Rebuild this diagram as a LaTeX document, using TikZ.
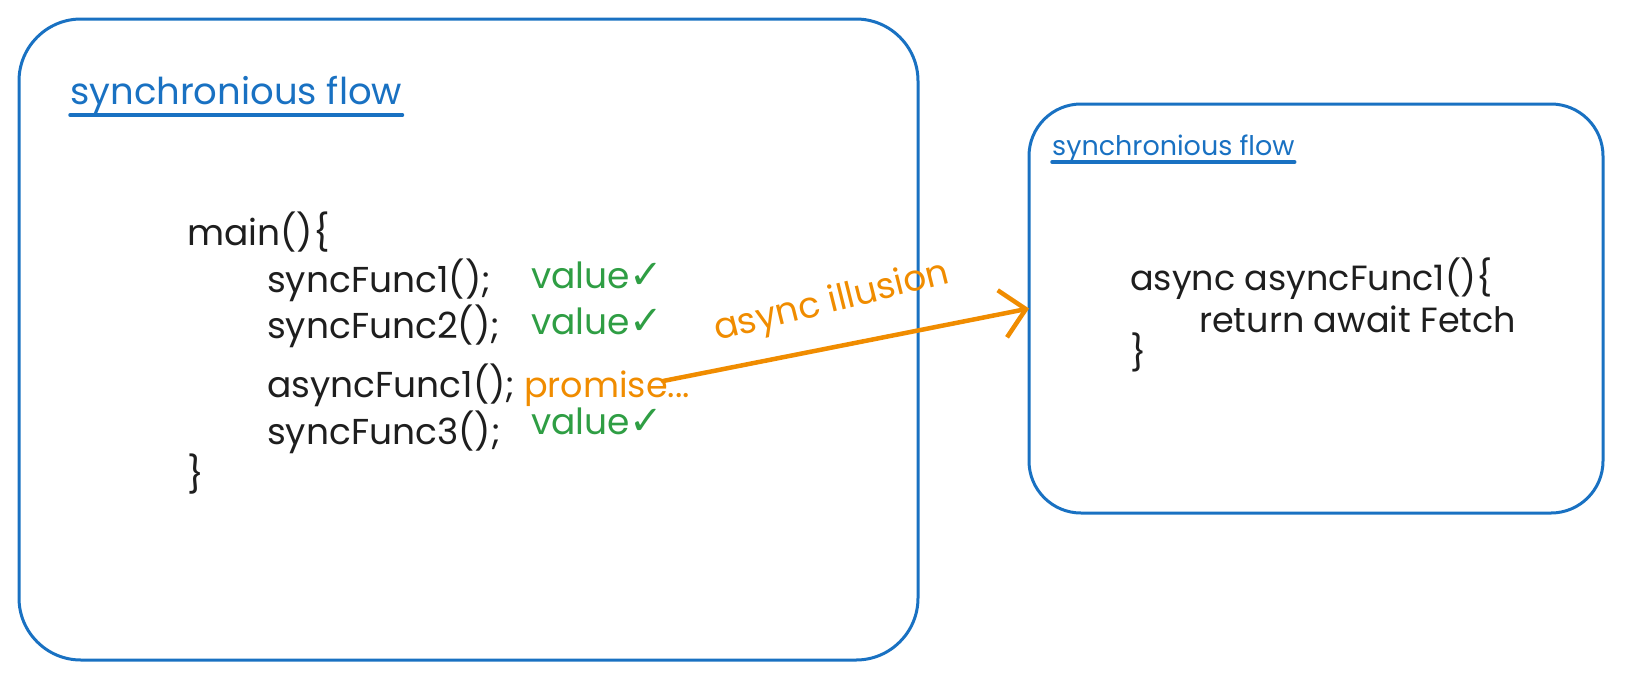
\documentclass[tikz,border=0pt]{standalone}
\usepackage{fontspec}
\setmainfont{Poppins}
\newfontfamily\symfont{DejaVu Sans}
\usetikzlibrary{arrows.meta}
\definecolor{exblue}{HTML}{1971C2}
\definecolor{exgreen}{HTML}{2F9E44}
\definecolor{exorange}{HTML}{F08C00}
\definecolor{exblack}{HTML}{1E1E1E}
\tikzset{
  box/.style={draw=exblue, line width=3pt, rounded corners=#1},
  code/.style={anchor=base west, inner sep=0pt, text=exblack, font=\fontsize{36}{40}\selectfont},
  codesmall/.style={anchor=base west, inner sep=0pt, text=exblack, font=\fontsize{35}{38}\selectfont},
  val/.style={anchor=base west, inner sep=0pt, text=exgreen, font=\fontsize{36}{38}\selectfont},
  prom/.style={anchor=base west, inner sep=0pt, text=exorange, font=\fontsize{35}{38}\selectfont},
  ttl/.style={anchor=base west, inner sep=0pt, text=exblue, font=\fontsize{#1}{#1}\selectfont},
  uline/.style={draw=exblue, line width=3.5pt, line cap=round},
  conn/.style={draw=exorange, line width=4.5pt, line cap=round, -{Straight Barb[length=24pt, width=48pt, line width=4.5pt]}},
}
\newcommand{\chk}{{\symfont\fontsize{40}{40}\selectfont ✓}}
\begin{document}
\begin{tikzpicture}[x=1pt, y=-1pt]
\useasboundingbox (0,0) rectangle (1625,681);
% boxes
\draw[box=62] (19,19) rectangle (918,660);
\draw[box=52] (1029,104) rectangle (1603,513);
\coordinate (rbox) at (1029,308.5);
% left title
\node[ttl=37] (t1) at (70,104) {synchronious flow};
\draw[uline] ([yshift=-11pt]t1.base west) -- ([yshift=-11pt]t1.base east);
% left code
\node[code] (m) at (187,245) {main()\{};
\node[code] (s1) at (267,292) {syncFunc1();};
\node[code] (s2) at (267,338) {syncFunc2();};
\node[code] (a1) at (267,397) {asyncFunc1();};
\node[code] (s3) at (267,444) {syncFunc3();};
\node[code] (cb) at (187,487) {\}};
\node[val] (v1) at (531,288) {value\chk};
\node[val] (v2) at (531,334) {value\chk};
\node[prom] (p) at (524,397) {promise...};
\node[val] (v3) at (531,434) {value\chk};
% right title
\node[ttl=27] (t2) at (1052,155) {synchronious flow};
\draw[uline] ([yshift=-7pt]t2.base west) -- ([yshift=-7pt]t2.base east);
% right code
\node[codesmall] (r1) at (1130,290) {async asyncFunc1()\{};
\node[codesmall] (r2) at (1199,332) {return await Fetch};
\node[codesmall] (r3) at (1130,365) {\}};
% arrow
\coordinate (p0) at (663,381);
\draw[conn] (p0) -- (rbox);
\node[anchor=center, inner sep=0pt, text=exorange, rotate=14, font=\fontsize{36}{38}\selectfont] (lbl) at (832,303) {async illusion};
\end{tikzpicture}
\end{document}
